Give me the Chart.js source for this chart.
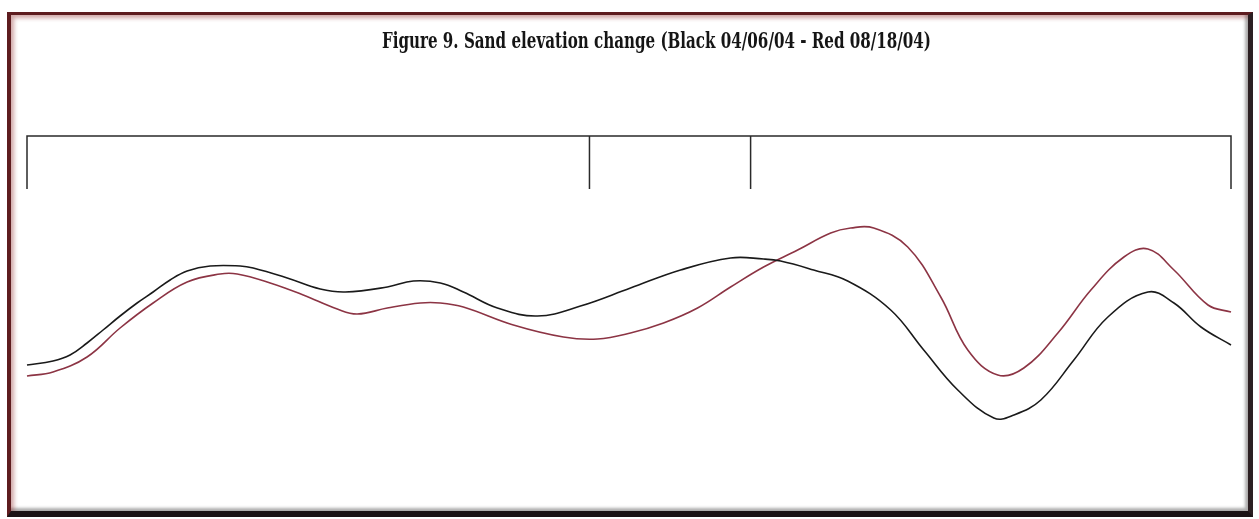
<!DOCTYPE html>
<html>
<head>
<meta charset="utf-8">
<script src="https://cdn.jsdelivr.net/npm/chart.js@4/dist/chart.umd.min.js"></script>
<style>
  html, body { margin: 0; padding: 0; background: #ffffff; width: 1259px; height: 519px; overflow: hidden; }
  #frame {
    position: absolute; left: 7px; top: 12px; width: 1237px; height: 496px;
    border-top: 3px solid #5e1c1f; border-left: 4px solid #5e1c1f;
    border-right: 5px solid #2c1f22; border-bottom: 6px solid #1b1315;
    box-shadow: inset 3px 3px 4px rgba(150, 60, 60, 0.45), inset -3px -3px 3px rgba(110, 110, 110, 0.55);
    background: #ffffff;
  }
  #c { position: absolute; left: 0; top: 0; }
  #title {
    position: absolute; left: 382px; top: 29.4px; white-space: nowrap;
    font-family: "DejaVu Serif", "Liberation Serif", serif; font-stretch: condensed;
    font-weight: bold; font-size: 22px; line-height: 22px; color: #151515;
    transform-origin: 0 0;
  }
</style>
</head>
<body>
<div id="frame"></div>
<canvas id="c" width="1259" height="519"></canvas>
<div id="title"></div>
<script>
// Distance along profile (arbitrary units) and elevation (arbitrary units)
const blackX = [0,26,43,60,76,93,110,126,143,160,183,213,226,260,293,318,360,386,413,436,470,510,553,603,653,703,736,753,786,820,863,896,930,966,986,1013,1046,1080,1120,1146,1173,1203];
const blackY = [135,139,145,157,170,184,197,208,220,229,234,234,232,222,211,208,213,219,217,208,192,184,194,212,230,242,241,239,230,219,190,150,110,82,85,100,140,183,208,197,173,155];
const redX = [0,26,60,93,126,160,193,210,243,276,310,330,360,393,413,436,486,536,570,603,636,670,703,736,770,803,823,846,880,913,940,970,996,1030,1063,1096,1120,1146,1180,1203];
const redY = [124,128,143,172,197,218,226,226,217,205,191,186,192,197,197,193,175,163,161,167,177,192,213,233,250,267,272,272,253,203,150,125,132,167,210,243,251,230,195,188];
// Section bracket marks
const bracketX = [0, 562, 723, 1203];
const bracketTop = 364;
const bracketBottom = 311;
const TITLE = 'Figure 9. Sand elevation change (Black 04/06/04 - Red 08/18/04)';

function pts(xs, ys) { return xs.map((x, i) => ({ x: x, y: ys[i] })); }

// title as real text, fitted to the reference width
const titleEl = document.getElementById('title');
titleEl.textContent = TITLE;
const tw = titleEl.getBoundingClientRect().width;
titleEl.style.transform = 'scaleX(' + (549 / tw) + ')';

const bracketSets = [];
bracketSets.push({
  data: [{x: bracketX[0], y: bracketBottom}, {x: bracketX[0], y: bracketTop}, {x: bracketX[3], y: bracketTop}, {x: bracketX[3], y: bracketBottom}],
  borderColor: '#2a2a2a', borderWidth: 1.5, pointRadius: 0, tension: 0, clip: false
});
[bracketX[1], bracketX[2]].forEach(bx => {
  bracketSets.push({
    data: [{x: bx, y: bracketTop}, {x: bx, y: bracketBottom}],
    borderColor: '#2a2a2a', borderWidth: 1.5, pointRadius: 0, tension: 0, clip: false
  });
});

new Chart(document.getElementById('c'), {
  type: 'line',
  data: {
    datasets: [
      { label: 'Black 04/06/04', data: pts(blackX, blackY), borderColor: '#1a1a1a', borderWidth: 1.6, pointRadius: 0, tension: 0.4, clip: false },
      { label: 'Red 08/18/04', data: pts(redX, redY), borderColor: '#8c3444', borderWidth: 1.6, pointRadius: 0, tension: 0.4, clip: false },
      ...bracketSets
    ]
  },
  options: {
    responsive: false,
    animation: false,
    devicePixelRatio: 1,
    layout: { padding: { left: 27, right: 28, top: 100, bottom: 19 } },
    plugins: {
      legend: { display: false },
      tooltip: { enabled: false },
      title: { display: false }
    },
    scales: {
      x: { type: 'linear', display: false, min: 0, max: 1203 },
      y: { type: 'linear', display: false, min: 0, max: 400 }
    }
  }
});
</script>
</body>
</html>
